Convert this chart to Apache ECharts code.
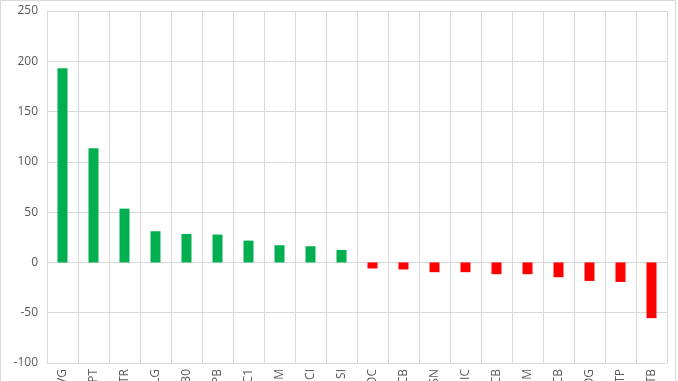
<!DOCTYPE html>
<html>
<head>
<meta charset="utf-8">
<script src="https://cdn.jsdelivr.net/npm/echarts@6/dist/echarts.min.js"></script>
<style>
html,body{margin:0;padding:0;background:#fff;}
#wrap{position:absolute;left:0;top:0;width:676px;height:381px;border:1px solid #d9d9d9;border-bottom:none;box-sizing:border-box;}
#chart{position:absolute;left:0;top:0;width:678px;height:381px;}
</style>
</head>
<body>
<div id="wrap"></div>
<div id="chart"></div>
<script>
const categories = ["VG","PT","TR","LG","30","PB","C1","M","CI","SI","OC","CB","SN","IC","CB","M","CB","OG","TP","TB"];
const values = [193, 113.5, 53.5, 31, 28.3, 27.7, 21.7, 17.1, 16.1, 12.4, -6, -7, -9.7, -9.7, -11.7, -11.7, -14.7, -18.4, -19.4, -55.4];
const yTicks = { min: -100, max: 250, interval: 50 };

const chart = echarts.init(document.getElementById('chart'), null, {renderer:'canvas'});
chart.setOption({
  animation: false,
  backgroundColor: 'transparent',
  grid: { left: 47, right: 11, top: 11, bottom: 18, containLabel: false, outerBoundsMode: 'none' },
  xAxis: {
    type: 'category',
    data: categories,
    axisLine: { show: false },
    axisTick: { show: false },
    axisLabel: { rotate: 90, margin: 6, color: '#595959', fontSize: 12, fontFamily: 'Open Sans', interval: 0 },
    splitLine: { show: true, interval: 0, lineStyle: { color: '#d9d9d9', width: 1 } }
  },
  yAxis: {
    type: 'value',
    min: yTicks.min, max: yTicks.max, interval: yTicks.interval,
    axisLine: { show: false },
    axisTick: { show: false },
    axisLabel: { color: '#595959', fontSize: 12, fontFamily: 'Open Sans', margin: 9 },
    splitLine: { lineStyle: { color: '#d9d9d9', width: 1 } }
  },
  series: [{
    type: 'bar',
    data: values.map(v => ({ value: v, itemStyle: { color: v >= 0 ? '#00B050' : '#FF0000' } })),
    barWidth: 10
  }]
});
</script>
</body>
</html>
